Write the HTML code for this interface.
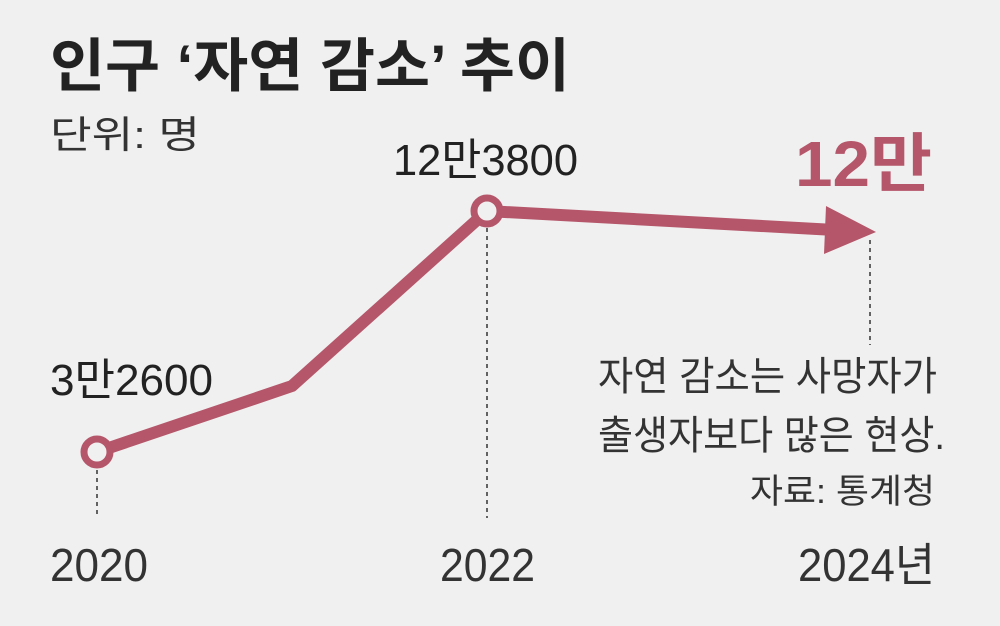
<!DOCTYPE html>
<html><head><meta charset="utf-8"><style>
body{margin:0;background:#f0f0f0;}
svg{display:block;font-family:"Liberation Sans","Noto Sans CJK KR",sans-serif;}
</style></head><body>
<svg width="1000" height="626" viewBox="0 0 1000 626">
<rect width="1000" height="626" fill="#f0f0f0"/>
<text x="50" y="86" font-size="58" font-weight="bold" fill="#222" textLength="520" lengthAdjust="spacingAndGlyphs">인구 ‘자연 감소’ 추이</text>
<text x="50" y="148" font-size="38" fill="#333" textLength="150" lengthAdjust="spacingAndGlyphs">단위: 명</text>
<g stroke="#333" stroke-width="1.5" stroke-dasharray="4,4">
<line x1="97" y1="470" x2="97" y2="518"/>
<line x1="487" y1="228" x2="487" y2="518"/>
<line x1="870" y1="240" x2="870" y2="345"/>
</g>
<polyline points="97,452 292,386 487,211 835,230" fill="none" stroke="#b5566a" stroke-width="12" stroke-linejoin="round"/>
<polygon points="826,206 876,232 824,254" fill="#b5566a"/>
<circle cx="97" cy="452" r="13" fill="#f0f0f0" stroke="#b5566a" stroke-width="7"/>
<circle cx="487" cy="211" r="13" fill="#f0f0f0" stroke="#b5566a" stroke-width="7"/>
<text x="50" y="395" font-size="44" fill="#222" textLength="163" lengthAdjust="spacingAndGlyphs">3만2600</text>
<text x="393" y="175" font-size="44" fill="#222" textLength="185" lengthAdjust="spacingAndGlyphs">12만3800</text>
<text x="795" y="186" font-size="64" font-weight="bold" fill="#b5566a" textLength="137" lengthAdjust="spacingAndGlyphs">12만</text>
<g font-size="40" fill="#333">
<text x="598" y="390" textLength="339" lengthAdjust="spacingAndGlyphs">자연 감소는 사망자가</text>
<text x="598" y="449" textLength="347" lengthAdjust="spacingAndGlyphs">출생자보다 많은 현상.</text>
<text x="750" y="503" font-size="34" textLength="185" lengthAdjust="spacingAndGlyphs">자료: 통계청</text>
</g>
<g font-size="46" fill="#333">
<text x="50" y="581" textLength="98" lengthAdjust="spacingAndGlyphs">2020</text>
<text x="440" y="581" textLength="95" lengthAdjust="spacingAndGlyphs">2022</text>
<text x="798" y="581" textLength="137" lengthAdjust="spacingAndGlyphs">2024년</text>
</g>
</svg>
</body></html>
